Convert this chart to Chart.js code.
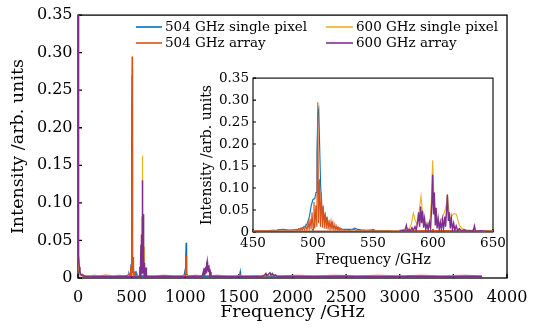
<!DOCTYPE html>
<html><head><meta charset="utf-8">
<script src="https://cdn.jsdelivr.net/npm/chart.js@4.4.0/dist/chart.umd.min.js"></script>
<style>
html,body{margin:0;padding:0;background:#fff;}
#wrap{position:relative;width:545px;height:335px;overflow:hidden;}
#main{position:absolute;left:0;top:0;}
#inset{position:absolute;left:190px;top:66px;}
</style></head><body>
<div id="wrap"><canvas id="main" width="545" height="335"></canvas><canvas id="inset" width="320" height="210"></canvas></div>
<script>
// ---- data: [frequency GHz, intensity] ----
const seriesNames = ['504 GHz single pixel','504 GHz array','600 GHz single pixel','600 GHz array'];

const single504 = [[0,0.5],[3,0.09],[6,0.03],[10,0.014],[16,0.008],[25,0.005],[40,0.004],[70,0.003],[120,0.0025],[200,0.0022],[300,0.002],[380,0.002],[440,0.0025],[460,0.003],[470,0.0045],[475,0.006],[480,0.004],[486,0.005],[490,0.008],[493,0.012],[495,0.018],[497,0.035],[498.5,0.06],[500,0.074],[501.5,0.076],[502.5,0.09],[503.3,0.18],[504,0.27],[504.8,0.28],[505.5,0.2],[506.3,0.11],[507.2,0.06],[508.5,0.042],[510,0.034],[511.2,0.032],[512.2,0.018],[513.5,0.015],[515,0.014],[517,0.013],[519,0.011],[521,0.01],[524,0.007],[527,0.006],[530,0.006],[533,0.007],[535,0.009],[537,0.006],[540,0.005],[545,0.004],[550,0.005],[552,0.004],[555,0.003],[560,0.0025],[570,0.002],[590,0.002],[620,0.002],[660,0.002],[700,0.0022],[800,0.002],[900,0.002],[960,0.0025],[990,0.004],[1000,0.012],[1004,0.025],[1008,0.047],[1011,0.025],[1015,0.006],[1025,0.003],[1060,0.002],[1150,0.002],[1250,0.002],[1350,0.002],[1450,0.002],[1490,0.003],[1505,0.004],[1510,0.007],[1513,0.009],[1516,0.004],[1522,0.002],[1540,0.002],[1700,0.002],[1900,0.002],[2100,0.0025],[2400,0.002],[2700,0.002],[3000,0.002],[3300,0.002],[3600,0.002],[3767,0.002]];

const array504 = [[0,0.5],[3,0.06],[6,0.02],[10,0.01],[16,0.006],[25,0.004],[40,0.005],[60,0.003],[100,0.003],[150,0.0035],[200,0.003],[260,0.004],[320,0.003],[380,0.0035],[430,0.003],[455,0.0035],[470,0.004],[476,0.005],[482,0.004],[486,0.006],[487,0.002],[488,0.007],[489,0.002],[490,0.009],[491,0.003],[492,0.011],[493,0.003],[494,0.015],[495,0.004],[496,0.022],[496.8,0.005],[497.6,0.03],[498.4,0.006],[499.2,0.045],[500,0.008],[500.8,0.068],[501.6,0.01],[502.4,0.06],[503.2,0.012],[504,0.295],[504.6,0.02],[505.4,0.12],[506.2,0.012],[507,0.09],[507.8,0.01],[508.6,0.06],[509.4,0.008],[510.2,0.045],[511,0.007],[511.8,0.035],[512.6,0.006],[513.4,0.028],[514.2,0.005],[515,0.024],[515.8,0.005],[516.6,0.02],[517.4,0.004],[518.2,0.017],[519,0.004],[519.8,0.013],[520.6,0.003],[521.4,0.01],[522.2,0.003],[523,0.008],[524,0.003],[525,0.006],[526,0.003],[528,0.005],[530,0.003],[534,0.006],[537,0.003],[545,0.003],[555,0.0035],[570,0.003],[600,0.0035],[650,0.003],[700,0.003],[800,0.0035],[900,0.003],[980,0.003],[1000,0.005],[1005,0.012],[1008,0.03],[1011,0.012],[1016,0.004],[1030,0.003],[1100,0.0035],[1200,0.003],[1300,0.0035],[1400,0.003],[1500,0.003],[1507,0.004],[1512,0.0045],[1518,0.003],[1600,0.003],[1750,0.0035],[1900,0.003],[2050,0.0035],[2200,0.003],[2400,0.0035],[2600,0.003],[2800,0.0035],[3000,0.003],[3200,0.0035],[3400,0.003],[3600,0.0035],[3767,0.003]];

const single600 = [[0,0.5],[3,0.07],[6,0.025],[10,0.012],[16,0.007],[25,0.004],[40,0.003],[80,0.0025],[150,0.0025],[250,0.002],[350,0.0025],[450,0.002],[500,0.0022],[540,0.002],[565,0.0025],[572,0.004],[576,0.006],[578,0.009],[580,0.006],[582,0.018],[583.6,0.043],[585,0.028],[586.5,0.018],[588,0.035],[589,0.06],[590,0.082],[591.2,0.045],[592.5,0.022],[594,0.015],[596,0.017],[597.5,0.025],[598.6,0.07],[599.7,0.163],[600.8,0.08],[602,0.03],[603.5,0.02],[605,0.018],[606.5,0.025],[608,0.035],[609.5,0.045],[611,0.06],[612,0.085],[613,0.055],[614.3,0.03],[615.5,0.035],[616.5,0.04],[618,0.042],[619.5,0.04],[620.5,0.03],[622,0.015],[624,0.008],[628,0.005],[632,0.004],[634.5,0.006],[636,0.003],[642,0.002],[660,0.002],[700,0.0025],[800,0.002],[1000,0.0025],[1100,0.002],[1160,0.003],[1175,0.007],[1190,0.01],[1200,0.014],[1210,0.01],[1220,0.009],[1235,0.004],[1260,0.002],[1400,0.0025],[1600,0.002],[1780,0.003],[1800,0.004],[1820,0.003],[1900,0.002],[2200,0.0025],[2500,0.002],[2800,0.0025],[3100,0.002],[3400,0.0025],[3767,0.002]];

const array600 = [[0,0.5],[2,0.2],[4,0.07],[7,0.03],[11,0.015],[17,0.008],[26,0.005],[40,0.003],[70,0.002],[120,0.0015],[300,0.0015],[500,0.0015],[560,0.0015],[572,0.002],[575,0.004],[576.5,0.002],[577.8,0.015],[578.6,0.003],[580,0.006],[581,0.002],[582.5,0.01],[583.5,0.003],[585,0.012],[586,0.004],[587,0.02],[588,0.045],[588.8,0.012],[589.7,0.058],[590.5,0.02],[591.3,0.048],[592.2,0.01],[593,0.03],[594,0.006],[595,0.018],[596,0.005],[597,0.022],[598,0.008],[599,0.065],[599.7,0.13],[600.4,0.04],[601.1,0.09],[601.9,0.015],[602.6,0.055],[603.4,0.008],[604.3,0.03],[605.2,0.006],[606.1,0.022],[607,0.006],[607.9,0.028],[608.8,0.008],[609.7,0.035],[610.5,0.012],[611.3,0.05],[612,0.085],[612.8,0.025],[613.6,0.045],[614.4,0.008],[615.3,0.03],[616.2,0.005],[617.2,0.02],[618.2,0.004],[619.3,0.014],[620.5,0.003],[622,0.008],[623.5,0.003],[626,0.005],[628,0.002],[631,0.003],[633.5,0.002],[634.5,0.014],[635.5,0.002],[640,0.003],[645,0.0015],[700,0.0015],[900,0.0015],[1100,0.0015],[1150,0.002],[1162,0.004],[1170,0.009],[1175,0.004],[1180,0.013],[1185,0.006],[1190,0.015],[1195,0.008],[1200,0.019],[1204,0.022],[1208,0.01],[1213,0.017],[1218,0.008],[1223,0.012],[1228,0.005],[1234,0.008],[1240,0.003],[1255,0.0015],[1500,0.0015],[1700,0.0015],[1720,0.002],[1740,0.004],[1752,0.006],[1760,0.003],[1775,0.005],[1790,0.007],[1800,0.004],[1812,0.006],[1825,0.003],[1840,0.004],[1860,0.0015],[2200,0.0015],[2600,0.0015],[3000,0.0015],[3400,0.0015],[3767,0.0015]];

const mainXTicks = [0,500,1000,1500,2000,2500,3000,3500,4000];
const mainXLabels = ['0','500','1000','1500','2000','2500','3000','3500','4000'];
const insetXTicks = [450,500,550,600,650];
const insetXLabels = ['450','500','550','600','650'];
const yTicks = [0,0.05,0.10,0.15,0.20,0.25,0.30,0.35];
const yLabels = ['0','0.05','0.10','0.15','0.20','0.25','0.30','0.35'];

// ---- rendering ----
const FONT = 'DejaVu Serif';
const COLORS = ['#0072BD','#D95319','#EDB120','#7E2F8E'];
const SERIES = [single504, array504, single600, array600];

function makeDatasets(lw){
  return SERIES.map((s,i)=>({
    label: seriesNames[i],
    data: s.map(p=>({x:p[0],y:p[1]})),
    borderColor: COLORS[i],
    borderWidth: i===3 ? lw+0.3 : lw,
    pointRadius: 0,
    fill: false,
    tension: 0,
    order: 3-i
  }));
}

const framePlugin = {
  id:'frame',
  beforeDraw(chart, args, opts){
    if(!opts.white) return;
    const a = chart.chartArea, ctx = chart.ctx;
    ctx.save(); ctx.fillStyle='#fff';
    ctx.fillRect(a.left,a.top,a.right-a.left,a.bottom-a.top);
    ctx.restore();
  },
  beforeDatasetsDraw(chart, args, opts){
    const {ctx, chartArea:a} = chart;
    const x = chart.scales.x, y = chart.scales.y;
    ctx.save();
    ctx.strokeStyle='#000'; ctx.lineWidth=opts.lw;
    ctx.strokeRect(a.left, a.top, a.right-a.left, a.bottom-a.top);
    ctx.beginPath();
    x.ticks.forEach(t=>{const px=x.getPixelForValue(t.value); ctx.moveTo(px,a.bottom); ctx.lineTo(px,a.bottom-opts.len);});
    y.ticks.forEach(t=>{const py=y.getPixelForValue(t.value); ctx.moveTo(a.left,py); ctx.lineTo(a.left+opts.len,py);});
    ctx.stroke();
    ctx.restore();
  }
};

const legendPlugin = {
  id:'legend4',
  afterDraw(chart, args, opts){
    if(!opts.show) return;
    const ctx = chart.ctx;
    const cols = [[136,162,165],[326,353,356]];
    const rows = [27,43];
    ctx.save();
    ctx.font = '13.5px "'+FONT+'"';
    ctx.textBaseline='middle'; ctx.textAlign='left';
    seriesNames.forEach((name,i)=>{
      const c = cols[Math.floor(i/2)], r = rows[i%2];
      ctx.strokeStyle = COLORS[i]; ctx.lineWidth = 1.6;
      ctx.beginPath(); ctx.moveTo(c[0],r); ctx.lineTo(c[1],r); ctx.stroke();
      ctx.fillStyle='#000'; ctx.fillText(name, c[2], r+0.5);
    });
    ctx.restore();
  }
};

function makeChart(id, cfg){
  return new Chart(document.getElementById(id), {
    type:'line',
    data:{datasets: makeDatasets(cfg.lw)},
    plugins:[framePlugin, legendPlugin],
    options:{
      responsive:false, animation:false, events:[],
      layout:{padding:cfg.pad},
      plugins:{
        legend:{display:false}, tooltip:{enabled:false},
        frame:{lw:cfg.frameLw, len:cfg.tickLen, white:cfg.white},
        legend4:{show:cfg.legend}
      },
      scales:{
        x:{
          type:'linear', min:cfg.xMin, max:cfg.xMax,
          grid:{display:false, drawTicks:false}, border:{display:false},
          afterBuildTicks:s=>{s.ticks = cfg.xTicks.map(v=>({value:v}));},
          afterFit:s=>{s.height = cfg.xH;},
          ticks:{color:'#000', padding:cfg.xTickPad, maxRotation:0, autoSkip:false,
                 font:{family:FONT,size:cfg.tickSize},
                 callback:v=>cfg.xLabels[cfg.xTicks.indexOf(v)]},
          title:{display:true, text:'Frequency /GHz', color:'#000',
                 font:{family:FONT,size:cfg.titleSize}, padding:{top:0,bottom:cfg.xTitlePad}}
        },
        y:{
          type:'linear', min:0, max:0.35,
          grid:{display:false, drawTicks:false}, border:{display:false},
          afterBuildTicks:s=>{s.ticks = yTicks.map(v=>({value:v}));},
          afterFit:s=>{s.width = cfg.yW;},
          ticks:{color:'#000', padding:cfg.yTickPad, font:{family:FONT,size:cfg.tickSize},
                 callback:v=>yLabels[yTicks.indexOf(v)]},
          title:{display:true, text:'Intensity /arb. units', color:'#000',
                 font:{family:FONT,size:cfg.titleSize}, padding:{top:cfg.yTitlePad,bottom:0}}
        }
      }
    }
  });
}

makeChart('main', {
  lw:1.2, pad:{left:0,top:14,right:38,bottom:0}, frameLw:1.3, tickLen:4, white:false, legend:true,
  xMin:0, xMax:4000, xTicks:mainXTicks, xLabels:mainXLabels, xH:57, yW:78,
  tickSize:16, titleSize:17.5, xTickPad:10.5, xTitlePad:12.5, yTickPad:5.5, yTitlePad:7.5
});
makeChart('inset', {
  lw:1.1, pad:{left:0,top:12,right:17,bottom:0}, frameLw:1.1, tickLen:3, white:true, legend:false,
  xMin:450, xMax:650, xTicks:insetXTicks, xLabels:insetXLabels, xH:44, yW:63,
  tickSize:13.5, titleSize:14, xTickPad:3, xTitlePad:7.5, yTickPad:4, yTitlePad:8.6
});
</script>
</body></html>
